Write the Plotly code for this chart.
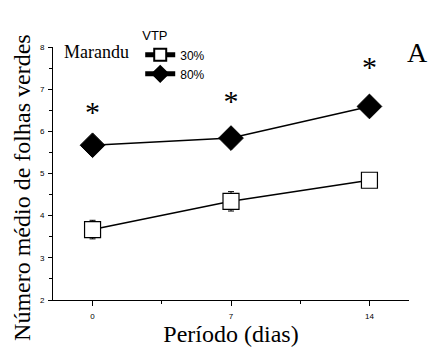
import plotly.graph_objects as go

# Leaf counts per evaluation period
days = [0, 7, 14]
vtp30_mean = [3.67, 4.34, 4.84]
vtp30_err = [0.22, 0.23, 0.12]
vtp80_mean = [5.67, 5.84, 6.59]

# Significance markers placed above the 80% series
star_y = [6.41, 6.66, 7.46]
star_text = ["*", "*", "*"]

fig = go.Figure()

fig.add_trace(go.Scatter(
    x=days, y=vtp30_mean, name="30%", mode="lines+markers",
    line=dict(color="black", width=1.5),
    marker=dict(symbol="square", size=16, color="white",
                line=dict(color="black", width=1.2)),
    error_y=dict(type="data", array=vtp30_err, color="black",
                 thickness=1, width=3),
))
fig.add_trace(go.Scatter(
    x=days, y=vtp80_mean, name="80%", mode="lines+markers",
    line=dict(color="black", width=1.5),
    marker=dict(symbol="diamond", size=19, color="black",
                line=dict(color="black", width=1)),
))
fig.add_trace(go.Scatter(
    x=days, y=star_y, mode="text", text=star_text, showlegend=False,
    textfont=dict(family="Liberation Serif", size=30, color="black"),
    hoverinfo="skip",
))

fig.update_layout(
    width=430, height=347,
    margin=dict(l=53, r=21, t=47, b=47),
    paper_bgcolor="white", plot_bgcolor="white",
    showlegend=True,
    legend=dict(
        x=0.245, y=1.093, xanchor="left", yanchor="top",
        bgcolor="rgba(0,0,0,0)",
        font=dict(family="Liberation Sans", size=12, color="black"),
        title=dict(text="VTP", side="top",
                   font=dict(family="Liberation Sans", size=13, color="black")),
        itemwidth=30, itemsizing="constant", tracegroupgap=0,
    ),
    xaxis=dict(
        range=[-2, 16], tickmode="linear", tick0=0, dtick=7,
        automargin=False,
        showgrid=False, zeroline=False, showline=True, linecolor="black",
        linewidth=1, ticks="outside", ticklen=5, tickcolor="black",
        ticklabelstandoff=3,
        tickfont=dict(family="Liberation Sans", size=8, color="black"),
        minor=dict(dtick=3.5, tick0=0, ticks="outside", ticklen=3,
                   tickcolor="black", showgrid=False),
        title=dict(text="Período (dias)",
                   font=dict(family="Liberation Serif", size=24, color="black"),
                   standoff=14),
    ),
    yaxis=dict(
        range=[2, 8], tickmode="linear", tick0=2, dtick=1,
        automargin=False,
        showgrid=False, zeroline=False, showline=True, linecolor="black",
        linewidth=1, ticks="outside", ticklen=4, tickcolor="black",
        ticklabelstandoff=2,
        tickfont=dict(family="Liberation Sans", size=8, color="black"),
        minor=dict(dtick=0.5, tick0=2, ticks="outside", ticklen=3,
                   tickcolor="black", showgrid=False),
    ),
    annotations=[
        dict(text="Número médio de folhas verdes", xref="paper", yref="paper",
             x=-0.087, y=0.443, xanchor="center", yanchor="middle",
             textangle=-90, showarrow=False,
             font=dict(family="Liberation Serif", size=24, color="black")),
        dict(text="Marandu", xref="paper", yref="paper", x=0.024, y=0.98,
             xanchor="left", yanchor="middle", showarrow=False,
             font=dict(family="Liberation Serif", size=18, color="black")),
        dict(text="A", xref="paper", yref="paper", x=1.06, y=0.98,
             xanchor="right", yanchor="middle", showarrow=False,
             font=dict(family="Liberation Serif", size=28, color="black")),
    ],
)

fig.write_html("out.html")
